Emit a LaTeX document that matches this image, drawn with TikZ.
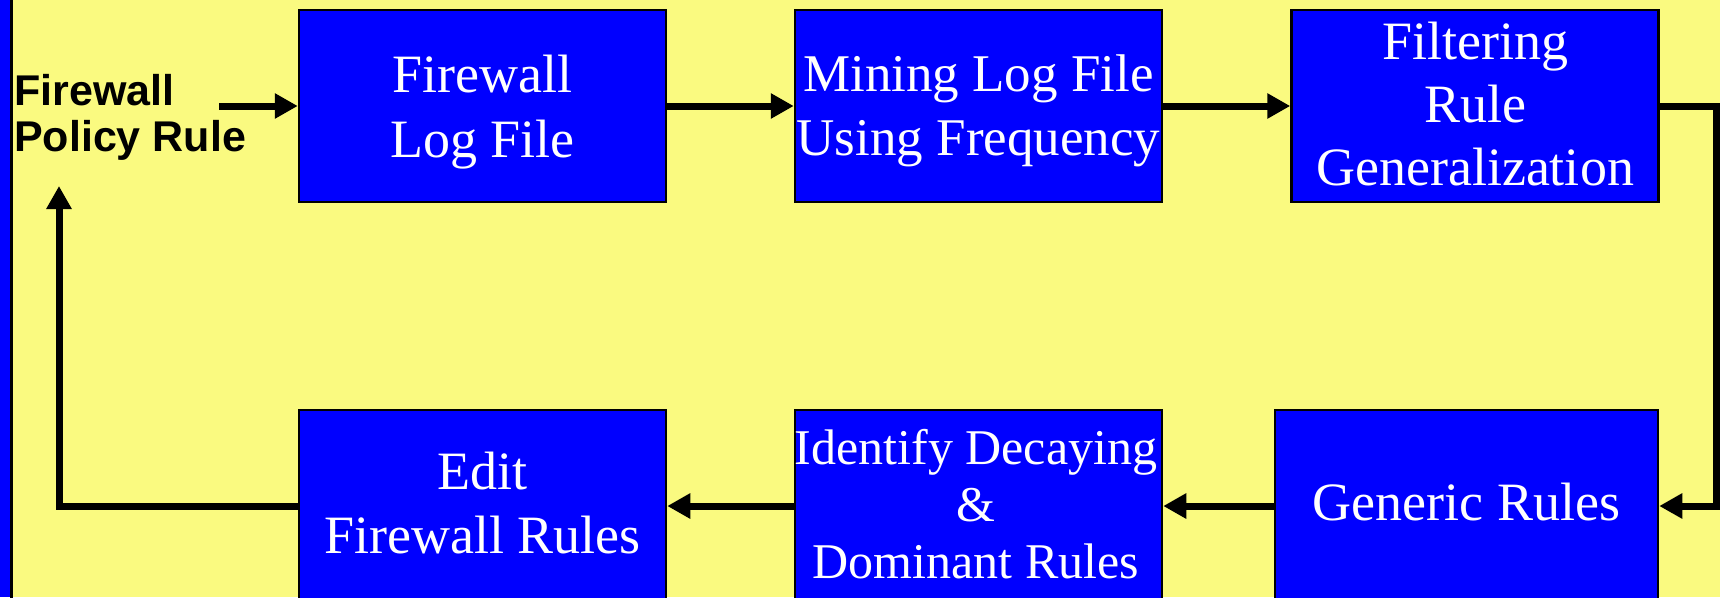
\documentclass[tikz,border=0pt]{standalone}
\usepackage{fontspec}
\setmainfont{Liberation Serif}
\newfontfamily\labelfont{Liberation Sans}
\usetikzlibrary{arrows.meta}
\definecolor{bgyellow}{RGB}{250,250,128}
\definecolor{boxblue}{RGB}{0,0,255}
\begin{document}
\begin{tikzpicture}[x=1pt,y=-1pt,
  box/.style={draw=black, line width=2.5pt, fill=boxblue, minimum width=367pt, minimum height=192pt, inner sep=0pt},
  txt/.style={text=white, align=center, inner sep=0pt},
  arr/.style={line width=7pt, -{Triangle[length=23pt,width=24pt]}},
  link/.style={line width=7pt}]
\useasboundingbox (0,0) rectangle (1720,597);
\fill[bgyellow] (0,0) rectangle (1720,597);
\fill[boxblue] (0,0) rectangle (10,597);
\draw[line width=2.5pt] (11.3,-5) -- (11.3,605);

% boxes
\node[box] (b1) at (482.5,106) {};
\node[box] (b2) at (978.5,106) {};
\node[box] (b3) at (1475,106) {};
\node[box] (b4) at (482.5,506) {};
\node[box] (b5) at (978.5,506) {};
\node[box, minimum width=383pt] (b6) at (1466.5,506) {};

% texts
\node[txt, font={\fontsize{54}{65}\selectfont}] (t1) at (482.5,111.8) {Firewall\\Log File};
\node[txt, font={\fontsize{53}{64}\selectfont}] (t2) at (978.5,110.7) {Mining Log File\\Using Frequency};
\node[txt, font={\fontsize{54}{63}\selectfont}] (t3) at (1475,104.5) {Filtering\\Rule\\Generalization};
\node[txt, font={\fontsize{54}{64}\selectfont}] (t4) at (482.5,503.5) {Edit\\Firewall Rules};
\node[txt, font={\fontsize{50}{57}\selectfont}] (t5) at (976,504) {Identify Decaying\\\&\\Dominant Rules};
\node[txt, font={\fontsize{54}{64}\selectfont}] (t6) at (1466.5,502.5) {Generic Rules};

\node[anchor=west, inner sep=0pt, align=left, font={\labelfont\bfseries\fontsize{43}{46}\selectfont}] (fpr) at (14,117) {Firewall\\Policy Rule};

% connectors
\coordinate (p0) at (219,106);
\coordinate (rc) at (1716.5,106);
\coordinate (lc) at (59,186);
\draw[arr] (p0) -- (b1.west);
\draw[arr] (b1.east) -- (b2.west);
\draw[arr] (b2.east) -- (b3.west);
\draw[arr] (b3.east) -- (rc) |- (b6.east);
\draw[arr] (b6.west) -- (b5.east);
\draw[arr] (b5.west) -- (b4.east);
\draw[arr] (b4.west) -| (lc);
\end{tikzpicture}
\end{document}
